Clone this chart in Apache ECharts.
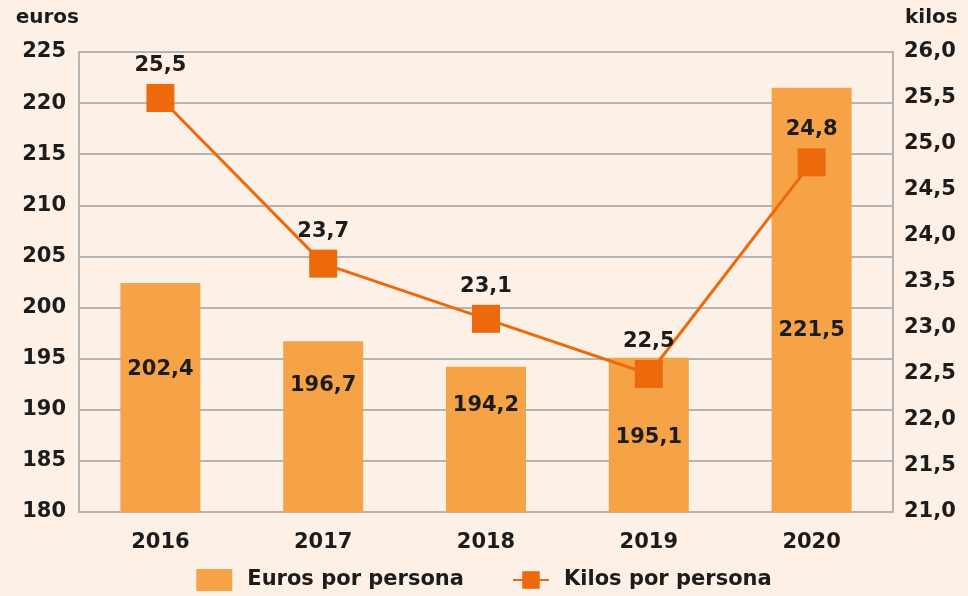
<!DOCTYPE html>
<html>
<head>
<meta charset="utf-8">
<style>
  html, body { margin: 0; padding: 0; background: #fdf0e7; }
  #chart { width: 968px; height: 596px; }
</style>
<script src="https://cdn.jsdelivr.net/npm/echarts@6/dist/echarts.min.js"></script>
</head>
<body>
<div id="chart"></div>
<script>
  // datos
  const years = ['2016', '2017', '2018', '2019', '2020']
  const euros = [202.4, 196.7, 194.2, 195.1, 221.5]
  const kilos = [25.5, 23.7, 23.1, 22.5, 24.8]

  const fmt = v => v.toFixed(1).replace('.', ',')
  const font = 'DejaVu Sans'
  const dark = '#1c1c1c'
  const gridColor = '#b4b4b4'

  // where each bar label sits from the top of its bar
  const barLabelDist = [76, 34, 28, 69, 232]

  const chart = echarts.init(document.getElementById('chart'))
  chart.setOption({
    backgroundColor: '#fdf0e7',
    textStyle: { fontFamily: font },
    grid: { left: 79, right: 75, top: 52, bottom: 84 },
    legend: {
      bottom: 0,
      left: 'center',
      itemGap: 48,
      itemWidth: 36,
      itemHeight: 22,
      textStyle: { fontFamily: font, fontWeight: 'bold', fontSize: 21, color: dark, padding: [0, 0, 0, 10] },
      data: [
        { name: 'Euros por persona', icon: 'rect' },
        { name: 'Kilos por persona' }
      ]
    },
    xAxis: {
      type: 'category',
      data: years,
      axisLine: { lineStyle: { color: gridColor, width: 2 } },
      axisTick: { show: false },
      axisLabel: { margin: 20, fontFamily: font, fontWeight: 'bold', fontSize: 21, color: dark }
    },
    yAxis: [
      {
        type: 'value',
        min: 180,
        max: 225,
        interval: 5,
        name: 'euros',
        nameGap: 24,
        nameTextStyle: { align: 'right', fontFamily: font, fontWeight: 'bold', fontSize: 20, color: dark },
        axisLine: { show: true, lineStyle: { color: gridColor, width: 2 } },
        axisTick: { show: false },
        splitLine: { lineStyle: { color: gridColor, width: 2 } },
        axisLabel: { margin: 13, fontFamily: font, fontWeight: 'bold', fontSize: 21, color: dark }
      },
      {
        type: 'value',
        min: 21,
        max: 26,
        interval: 0.5,
        name: 'kilos',
        nameGap: 24,
        nameTextStyle: { align: 'left', padding: [0, 0, 0, 12], fontFamily: font, fontWeight: 'bold', fontSize: 20, color: dark },
        axisLine: { show: true, lineStyle: { color: gridColor, width: 2 } },
        axisTick: { show: false },
        splitLine: { show: false },
        axisLabel: { margin: 11, fontFamily: font, fontWeight: 'bold', fontSize: 21, color: dark, formatter: v => fmt(v) }
      }
    ],
    series: [
      {
        name: 'Euros por persona',
        type: 'bar',
        barWidth: 80,
        itemStyle: { color: '#f6a347' },
        data: euros.map((v, i) => ({
          value: v,
          label: { show: true, position: 'insideTop', distance: barLabelDist[i] }
        })),
        label: {
          formatter: p => fmt(p.value),
          fontFamily: font, fontWeight: 'bold', fontSize: 21, color: dark
        }
      },
      {
        name: 'Kilos por persona',
        type: 'line',
        yAxisIndex: 1,
        data: kilos,
        symbol: 'rect',
        symbolSize: 28,
        lineStyle: { color: '#ec6a0c', width: 3 },
        itemStyle: { color: '#ec6a0c' },
        label: {
          show: true,
          position: 'top',
          distance: 8,
          formatter: p => fmt(p.value),
          fontFamily: font, fontWeight: 'bold', fontSize: 21, color: dark
        },
        z: 5
      }
    ]
  })
</script>
</body>
</html>
